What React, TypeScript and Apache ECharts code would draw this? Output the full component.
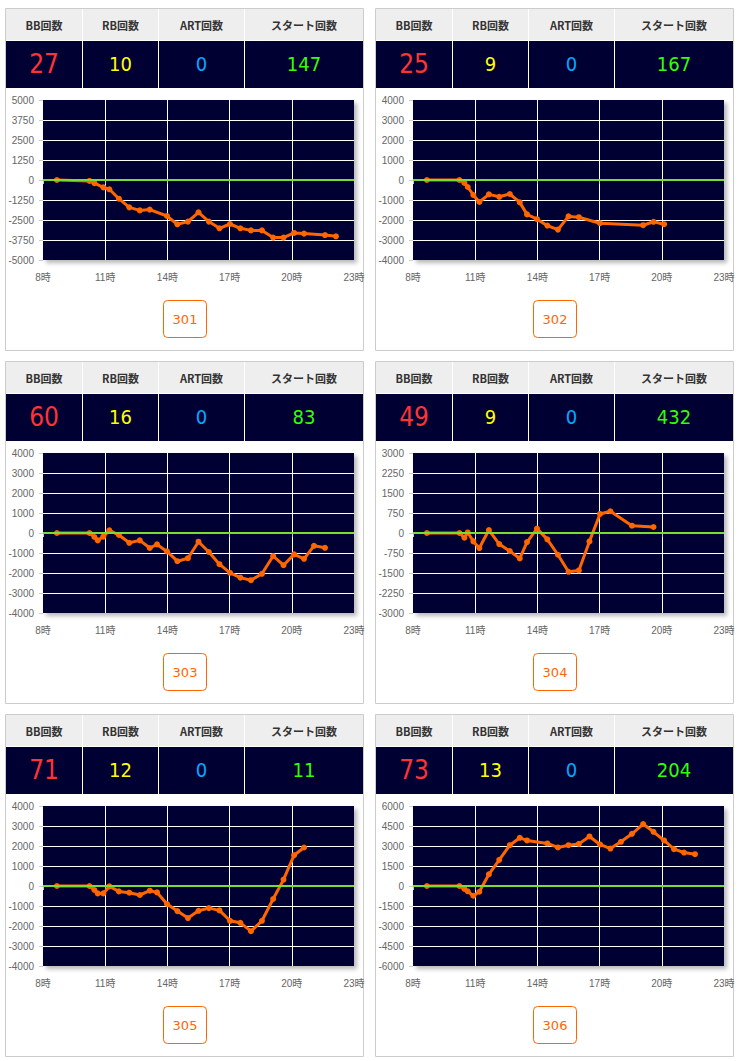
import React, { useEffect, useRef } from "react";
import * as echarts from "echarts";

// ---- data ----
const machineNos = ["301", "302", "303", "304", "305", "306"];
const headerLabels = ["BB回数", "RB回数", "ART回数", "スタート回数"];
const bbCounts = [27, 25, 60, 49, 71, 73];
const rbCounts = [10, 9, 16, 9, 12, 13];
const artCounts = [0, 0, 0, 0, 0, 0];
const startCounts = [147, 167, 83, 432, 11, 204];

const xTicks = [8, 11, 14, 17, 20, 23];

const yMin = [-5000, -4000, -4000, -3000, -4000, -6000];
const yMax = [5000, 4000, 4000, 3000, 4000, 6000];
const yStep = [1250, 1000, 1000, 750, 1000, 1500];

const hours301 = [8.67, 10.24, 10.48, 10.91, 11.2, 11.66, 12.16, 12.67, 13.15, 13.98, 14.48, 14.99, 15.5, 16.0, 16.51, 17.02, 17.52, 18.03, 18.56, 19.1, 19.6, 20.11, 20.59, 21.6, 22.13];
const diff301 = [0, -60, -200, -460, -580, -1170, -1710, -1900, -1850, -2250, -2770, -2600, -2020, -2600, -3020, -2750, -3020, -3150, -3150, -3600, -3600, -3310, -3350, -3440, -3520];

const hours302 = [8.67, 10.24, 10.48, 10.64, 10.91, 11.2, 11.66, 12.16, 12.67, 13.15, 13.5, 13.98, 14.48, 14.99, 15.5, 16.0, 17.02, 19.1, 19.6, 20.11];
const diff302 = [0, 0, -150, -350, -750, -1100, -720, -840, -700, -1120, -1720, -1960, -2280, -2480, -1820, -1860, -2160, -2260, -2090, -2210];

const hours303 = [8.67, 10.24, 10.48, 10.64, 10.91, 11.2, 11.66, 12.16, 12.67, 13.15, 13.5, 13.98, 14.48, 14.99, 15.5, 16.0, 16.51, 17.02, 17.52, 18.03, 18.56, 19.1, 19.6, 20.11, 20.59, 21.07, 21.6];
const diff303 = [0, 0, -200, -370, -180, 130, -100, -490, -370, -750, -570, -920, -1410, -1260, -435, -950, -1560, -1990, -2230, -2360, -2040, -1150, -1610, -1070, -1290, -640, -740];

const hours304 = [8.67, 10.24, 10.48, 10.64, 10.91, 11.2, 11.66, 12.16, 12.67, 13.15, 13.5, 13.98, 14.48, 14.99, 15.5, 16.0, 16.51, 17.02, 17.52, 18.56, 19.6];
const diff304 = [0, 0, -175, 20, -315, -565, 110, -415, -680, -955, -340, 165, -240, -815, -1455, -1405, -315, 715, 815, 275, 225];

const hours305 = [8.67, 10.24, 10.48, 10.64, 10.91, 11.2, 11.66, 12.16, 12.67, 13.15, 13.5, 13.98, 14.48, 14.99, 15.5, 16.0, 16.51, 17.02, 17.52, 18.03, 18.56, 19.1, 19.6, 20.11, 20.59];
const diff305 = [0, 0, -200, -370, -370, -20, -270, -335, -450, -235, -320, -900, -1255, -1605, -1240, -1105, -1220, -1740, -1840, -2260, -1740, -650, 320, 1540, 1925];

const hours306 = [8.67, 10.24, 10.48, 10.64, 10.91, 11.2, 11.66, 12.16, 12.67, 13.15, 13.5, 14.48, 14.99, 15.5, 16.0, 16.51, 17.02, 17.52, 18.03, 18.56, 19.1, 19.6, 20.11, 20.59, 21.07, 21.6];
const diff306 = [0, 0, -225, -400, -730, -430, 880, 1960, 3060, 3615, 3415, 3190, 2890, 3060, 3160, 3715, 3115, 2810, 3315, 3915, 4645, 4065, 3415, 2760, 2510, 2385];

const allHours = [hours301, hours302, hours303, hours304, hours305, hours306];
const allDiffs = [diff301, diff302, diff303, diff304, diff305, diff306];

// ---- layout / style ----
const PANEL_X = [5, 375];
const PANEL_Y = [8, 361, 714];
const PANEL_W = 358;
const PANEL_H = 342;
const COLS = [
  { x: 1, w: 76 },
  { x: 78, w: 75 },
  { x: 154, w: 85 },
  { x: 240, w: 118 },
];
const VALUE_COLORS = ["#ff3333", "#ffff00", "#00aaff", "#33ff00"];
const NAVY = "#000033";
const ORANGE = "#ff6600";
const GREEN = "#77dd33";
const AXIS_FONT = '"Liberation Sans", "Noto Sans CJK JP", sans-serif';
const NUM_FONT = '"DejaVu Sans Condensed", "DejaVu Sans", sans-serif';

function buildOption() {
  const grids: any[] = [];
  const xAxes: any[] = [];
  const yAxes: any[] = [];
  const series: any[] = [];
  const graphics: any[] = [];

  for (let i = 0; i < 6; i++) {
    const px = PANEL_X[i % 2];
    const py = PANEL_Y[Math.floor(i / 2)];

    grids.push({
      left: px + 38,
      top: py + 92,
      width: 311,
      height: 160,
      show: true,
      backgroundColor: NAVY,
      borderWidth: 0,
      shadowColor: "rgba(0,0,0,0.28)",
      shadowBlur: 4,
      shadowOffsetX: 3,
      shadowOffsetY: 3,
    });

    xAxes.push({
      type: "value",
      gridIndex: i,
      min: xTicks[0],
      max: xTicks[xTicks.length - 1],
      interval: 3,
      axisLine: { show: true, lineStyle: { color: "#cccccc", width: 1 } },
      axisTick: { show: true, length: 4, lineStyle: { color: "#cccccc" } },
      axisLabel: {
        color: "#666666",
        fontSize: 10,
        fontFamily: AXIS_FONT,
        margin: 12,
        formatter: (v: number) => `${v}時`,
      },
      splitLine: {
        show: true,
        showMinLine: false,
        showMaxLine: false,
        lineStyle: { color: "#ffffff", width: 1 },
      },
    });

    yAxes.push({
      type: "value",
      gridIndex: i,
      min: yMin[i],
      max: yMax[i],
      interval: yStep[i],
      axisLine: { show: false },
      axisTick: { show: true, length: 4, lineStyle: { color: "#cccccc" } },
      axisLabel: {
        color: "#666666",
        fontSize: 10,
        fontFamily: AXIS_FONT,
        margin: 9,
        formatter: (v: number) => String(v),
      },
      splitLine: {
        show: true,
        showMinLine: false,
        showMaxLine: false,
        lineStyle: { color: "#ffffff", width: 1 },
      },
    });

    // zero line below
    series.push({
      type: "line",
      xAxisIndex: i,
      yAxisIndex: i,
      data: [],
      z: 1,
      markLine: {
        silent: true,
        symbol: "none",
        label: { show: false },
        lineStyle: { color: GREEN, width: 2, type: "solid" },
        data: [{ yAxis: 0 }],
      },
    });
    // main series
    series.push({
      type: "line",
      xAxisIndex: i,
      yAxisIndex: i,
      z: 2,
      data: allHours[i].map((h, j) => [h, allDiffs[i][j]]),
      symbol: "circle",
      symbolSize: 6,
      showSymbol: true,
      lineStyle: { color: ORANGE, width: 3 },
      itemStyle: { color: ORANGE },
    });
    // translucent zero line on top
    series.push({
      type: "line",
      xAxisIndex: i,
      yAxisIndex: i,
      data: [],
      z: 3,
      markLine: {
        silent: true,
        symbol: "none",
        label: { show: false },
        lineStyle: { color: GREEN, width: 2, type: "solid", opacity: 0.45 },
        data: [{ yAxis: 0 }],
      },
    });

    // panel border
    graphics.push({
      type: "rect",
      shape: { x: px + 0.5, y: py + 0.5, width: PANEL_W, height: PANEL_H },
      style: { fill: "none", stroke: "#cccccc", lineWidth: 1 },
    });

    const vals = [bbCounts[i], rbCounts[i], artCounts[i], startCounts[i]];
    COLS.forEach((c, k) => {
      graphics.push({
        type: "rect",
        shape: { x: px + c.x, y: py + 1, width: c.w, height: 31 },
        style: { fill: "#eeeeee" },
      });
      graphics.push({
        type: "text",
        x: px + c.x + c.w / 2,
        y: py + 17,
        style: {
          text: headerLabels[k],
          fill: "#333333",
          fontSize: 11,
          fontWeight: "bold",
          fontFamily: '"Noto Sans CJK JP", sans-serif',
          textAlign: "center",
          textVerticalAlign: "middle",
        },
      });
      graphics.push({
        type: "rect",
        shape: { x: px + c.x, y: py + 33, width: c.w, height: 47 },
        style: { fill: NAVY },
      });
      graphics.push({
        type: "text",
        x: px + c.x + c.w / 2,
        y: py + 56,
        style: {
          text: String(vals[k]),
          fill: VALUE_COLORS[k],
          fontSize: k === 0 ? 26 : 20,
          fontFamily: NUM_FONT,
          textAlign: "center",
          textVerticalAlign: "middle",
        },
      });
    });

    // machine button
    graphics.push({
      type: "rect",
      shape: { x: px + 158.5, y: py + 292.5, width: 43, height: 37, r: 4 },
      style: { fill: "#ffffff", stroke: ORANGE, lineWidth: 1 },
    });
    graphics.push({
      type: "text",
      x: px + 180,
      y: py + 311,
      style: {
        text: machineNos[i],
        fill: ORANGE,
        fontSize: 13,
        fontFamily: '"DejaVu Sans", sans-serif',
        textAlign: "center",
        textVerticalAlign: "middle",
      },
    });
  }

  return {
    animation: false,
    backgroundColor: "#ffffff",
    grid: grids,
    xAxis: xAxes,
    yAxis: yAxes,
    series,
    graphic: { elements: graphics },
  };
}

export default function App() {
  const ref = useRef<HTMLDivElement>(null);
  useEffect(() => {
    if (!ref.current) return;
    const chart = echarts.init(ref.current, undefined, { renderer: "svg" });
    chart.setOption(buildOption() as any);
    return () => chart.dispose();
  }, []);
  return (
    <div
      ref={ref}
      style={{ position: "absolute", left: 0, top: 0, width: 740, height: 1061 }}
    />
  );
}
